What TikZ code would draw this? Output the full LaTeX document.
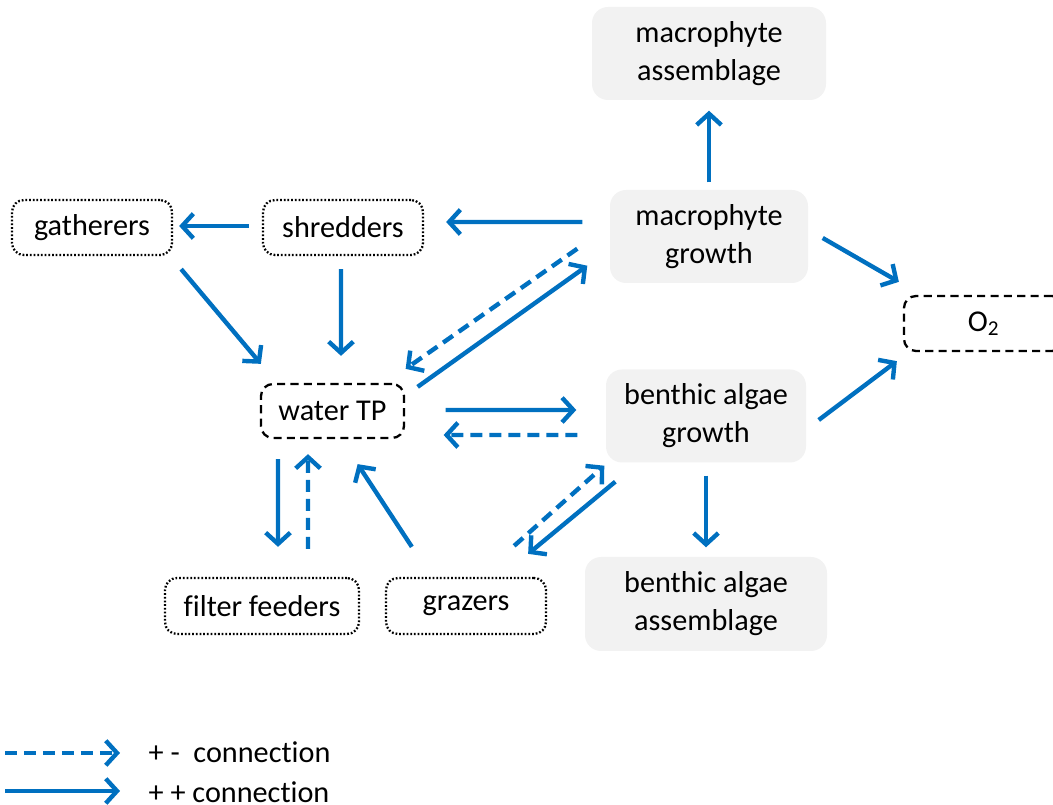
\documentclass[tikz,border=0pt]{standalone}
\usepackage{fontspec}
\setmainfont{Carlito}[Ligatures=NoCommon]
\usetikzlibrary{arrows.meta, positioning, calc}
\definecolor{ArrowBlue}{HTML}{0070C0}
\definecolor{BoxGray}{HTML}{F2F2F2}

\begin{document}
\begin{tikzpicture}[
   font=\fontsize{8.6}{10.8}\selectfont,
   growthbox/.style={fill=BoxGray, rounded corners=0.16cm, align=center, inner sep=0pt},
   dotbox/.style={draw, line width=0.65pt, dash pattern=on 0.5pt off 0.55pt,
      rounded corners=0.12cm, inner sep=0pt, minimum height=0.55cm},
   dashbox/.style={draw, line width=0.65pt, dash pattern=on 2.3pt off 1.5pt,
      rounded corners=0.12cm, inner sep=0pt, minimum height=0.54cm},
   pp/.style={ArrowBlue, line width=1.25pt, -{Straight Barb[length=3.2pt, width=7pt]}},
   pm/.style={pp, dash pattern=on 3.4pt off 2pt}
]
            \useasboundingbox (0,0) rectangle (10.53,8.05);
            % Plant and algae boxes (gray)
            \node[growthbox, minimum width=2.34cm, minimum height=0.93cm] (massemb) at (7.09,7.515) {macrophyte\\assemblage};
            \node[growthbox, minimum width=1.98cm, minimum height=0.93cm] (mgrowth) at (7.09,5.685) {macrophyte\\growth};
            \node[growthbox, minimum width=2.00cm, minimum height=0.93cm] (bgrowth) at (7.06,3.89) {benthic algae\\growth};
            \node[growthbox, minimum width=2.42cm, minimum height=0.94cm] (bassemb) at (7.06,2.01) {benthic algae\\assemblage};
            % Invertebrate boxes (dotted)
            \node[dotbox, minimum width=1.60cm] (gath) at (0.92,5.775) {gatherers};
            \node[dotbox, minimum width=1.60cm] (shred) at (3.43,5.775) {shredders};
            \node[dotbox, minimum width=1.94cm, minimum height=0.56cm] (filt) at (2.62,1.99) {filter feeders};
            \node[dotbox, minimum width=1.60cm, minimum height=0.56cm] (graz) at (4.66,1.99) {grazers};
            % State variables (dashed)
            \node[dashbox, minimum width=1.43cm] (wtp) at (3.325,3.94) {water TP};
            \node[dashbox, minimum width=1.60cm, minimum height=0.55cm] (otwo) at (9.84,4.815) {O\textsubscript{2}};
            % Macrophyte connections
            \draw[pp] ([shift={(0,0.07)}]mgrowth.north) -- ([shift={(0,-0.10)}]massemb.south);
            \draw[pp] ([shift={(-0.27,0.145)}]mgrowth.west) -- ([shift={(0.22,0.055)}]shred.east);
            \draw[pp] ([shift={(0.14,-0.015)}]mgrowth.east) -- ([shift={(-0.04,0.13)}]otwo.north west);
            \draw[pp] ([shift={(0.125,-0.04)}]wtp.north east) -- ([shift={(-0.22,0.18)}]mgrowth.south west);
            \draw[pm] ([shift={(-0.32,0.35)}]mgrowth.south west) -- ([shift={(0.005,0.14)}]wtp.north east);
            % Invertebrate connections
            \draw[pp] ([shift={(-0.13,0.015)}]shred.west) -- ([shift={(0.06,0.015)}]gath.east);
            \draw[pp] ([shift={(0.08,-0.13)}]gath.south east) -- ([shift={(0.01,0.19)}]wtp.north west);
            \draw[pp] ([shift={(-0.02,-0.13)}]shred.south) -- ([shift={(0.085,0.27)}]wtp.north);
            \draw[pp] ([shift={(-0.545,-0.20)}]wtp.south) -- ([shift={(0.16,0.30)}]filt.north);
            \draw[pm] ([shift={(0.46,0.28)}]filt.north) -- ([shift={(-0.245,-0.15)}]wtp.south);
            \draw[pp] ([shift={(0.27,0.30)}]graz.north west) -- ([shift={(-0.475,-0.25)}]wtp.south east);
            % Benthic algae connections
            \draw[pp] ([shift={(0.405,0.01)}]wtp.east) -- ([shift={(-0.29,0.06)}]bgrowth.west);
            \draw[pm] ([shift={(-0.28,-0.19)}]bgrowth.west) -- ([shift={(0.385,-0.24)}]wtp.east);
            \draw[pp] ([shift={(0.12,-0.04)}]bgrowth.east) -- ([shift={(-0.06,-0.09)}]otwo.south west);
            \draw[pp] ([shift={(0,-0.125)}]bgrowth.south) -- ([shift={(0,0.09)}]bassemb.north);
            \draw[pm] ([shift={(-0.33,0.31)}]graz.north east) -- ([shift={(-0.01,-0.025)}]bgrowth.south west);
            \draw[pp] ([shift={(0.10,-0.185)}]bgrowth.south west) -- ([shift={(-0.19,0.23)}]graz.north east);
            % Legend
            \coordinate (pmstart) at (0.05,0.52);
            \coordinate (ppstart) at (0.05,0.14);
            \node[anchor=west, inner sep=0pt] (pmtext) at (1.48,0.53) {+ -~~connection};
            \node[anchor=west, inner sep=0pt] (pptext) at (1.48,0.13) {+ + connection};
            \draw[pm] (pmstart) -- ([shift={(-0.28,-0.01)}]pmtext.west);
            \draw[pp] (ppstart) -- ([shift={(-0.28,0.01)}]pptext.west);
         \end{tikzpicture}
\end{document}
